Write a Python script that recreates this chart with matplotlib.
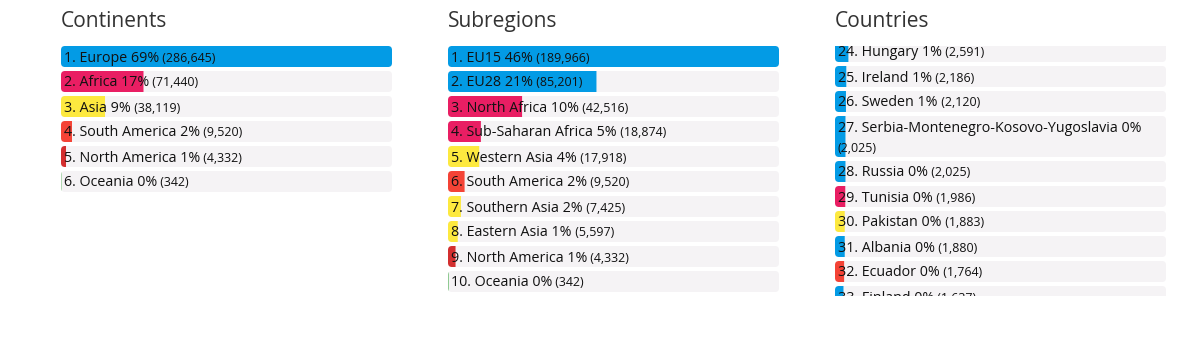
import matplotlib
matplotlib.use("Agg")
from matplotlib import pyplot as plt
from matplotlib.patches import FancyBboxPatch

plt.rcParams['font.family'] = ['Open Sans', 'DejaVu Sans']

# colours per continent
BLUE, PINK, YELLOW, RED, DARKRED = "#039be5", "#e91e63", "#fde93f", "#f44336", "#d32f2f"

# Continents
cont_names = ["Europe", "Africa", "Asia", "South America", "North America", "Oceania"]
cont_pct = [69, 17, 9, 2, 1, 0]
cont_vals = [286645, 71440, 38119, 9520, 4332, 342]
cont_cols = [BLUE, PINK, YELLOW, RED, DARKRED, "#4caf50"]

# Subregions
sub_names = ["EU15", "EU28", "North Africa", "Sub-Saharan Africa", "Western Asia",
             "South America", "Southern Asia", "Eastern Asia", "North America", "Oceania"]
sub_pct = [46, 21, 10, 5, 4, 2, 2, 1, 1, 0]
sub_vals = [189966, 85201, 42516, 18874, 17918, 9520, 7425, 5597, 4332, 342]
sub_cols = [BLUE, BLUE, PINK, PINK, YELLOW, RED, YELLOW, YELLOW, DARKRED, "#4caf50"]

# Countries (list is scrolled, ranks 24-33 visible)
cty_first_rank = 24
cty_top_value = 64000  # value of rank 1, not visible
cty_names = ["Hungary", "Ireland", "Sweden", "Serbia-Montenegro-Kosovo-Yugoslavia", "Russia",
             "Tunisia", "Pakistan", "Albania", "Ecuador", "Finland"]
cty_pct = [1, 1, 1, 0, 0, 0, 0, 0, 0, 0]
cty_vals = [2591, 2186, 2120, 2025, 2025, 1986, 1883, 1880, 1764, 1637]
cty_cols = [BLUE, BLUE, BLUE, BLUE, BLUE, PINK, YELLOW, BLUE, RED, BLUE]

W, H = 1184, 340
fig = plt.figure(figsize=(W / 100, H / 100), dpi=100)
renderer = fig.canvas.get_renderer()

PX = 0.72  # pt per px at dpi 100
ROW_H, ROW_GAP, LINE_H = 21, 4, 20
LIST_TOP, LIST_BOTTOM = 46, 296
PANEL_W = 331
LABEL_FS, COUNT_FS, TITLE_FS = 14.2 * PX, 12.4 * PX, 21 * PX


def panel(x0, title, names, pct, vals, cols, first_rank=1, top_value=None, start_y=LIST_TOP):
    """Draw one ranked list panel."""
    fig.text(x0 / W, 1 - 27 / H, title, fontsize=TITLE_FS, color="#333333", va="baseline")
    ax = fig.add_axes([x0 / W, 1 - LIST_BOTTOM / H, PANEL_W / W, (LIST_BOTTOM - LIST_TOP) / H])
    ax.axis("off")
    xmax = top_value if top_value else max(vals)
    ax.set_xlim(0, xmax)
    ax.set_ylim(LIST_BOTTOM, LIST_TOP)
    right_px = ax.get_window_extent(renderer).x1
    txt = dict(color="#111111", va="baseline", ha="left", clip_on=True,
               annotation_clip=False, zorder=3)

    y = start_y
    for i, (n, p, v, c) in enumerate(zip(names, pct, vals, cols)):
        base = y + 15.5
        lab = ax.annotate(f"{first_rank + i}. {n} {p}%", xy=(0, base), xytext=(3, 0),
                          textcoords="offset pixels", fontsize=LABEL_FS, **txt)
        cnt = ax.annotate(f" ({v:,})", xy=(1, base), xycoords=(lab, "data"),
                          fontsize=COUNT_FS, **txt)
        h = ROW_H
        if cnt.get_window_extent(renderer).x1 > right_px - 2:
            # wrap the count onto a second line
            cnt.remove()
            cnt = ax.annotate(f"({v:,})", xy=(0, base + LINE_H), xytext=(3, 0),
                              textcoords="offset pixels", fontsize=COUNT_FS, **txt)
            h += LINE_H
        bg = FancyBboxPatch((0, y), xmax, h, boxstyle=f"round,pad=0,rounding_size={4 * xmax / PANEL_W}",
                            mutation_aspect=PANEL_W / xmax, fc="#f5f3f5", ec="none", zorder=1)
        ax.add_patch(bg)
        bars = ax.barh(y + h / 2, v, height=h, left=0, color=c, zorder=2)
        for b in bars:
            b.set_clip_path(bg)
            b.set_snap(False)
        y += h + ROW_GAP


panel(61, "Continents", cont_names, cont_pct, cont_vals, cont_cols)
panel(448, "Subregions", sub_names, sub_pct, sub_vals, sub_cols)
panel(835, "Countries", cty_names, cty_pct, cty_vals, cty_cols,
      first_rank=cty_first_rank, top_value=cty_top_value, start_y=41)

fig.savefig("out.png", dpi=100)
